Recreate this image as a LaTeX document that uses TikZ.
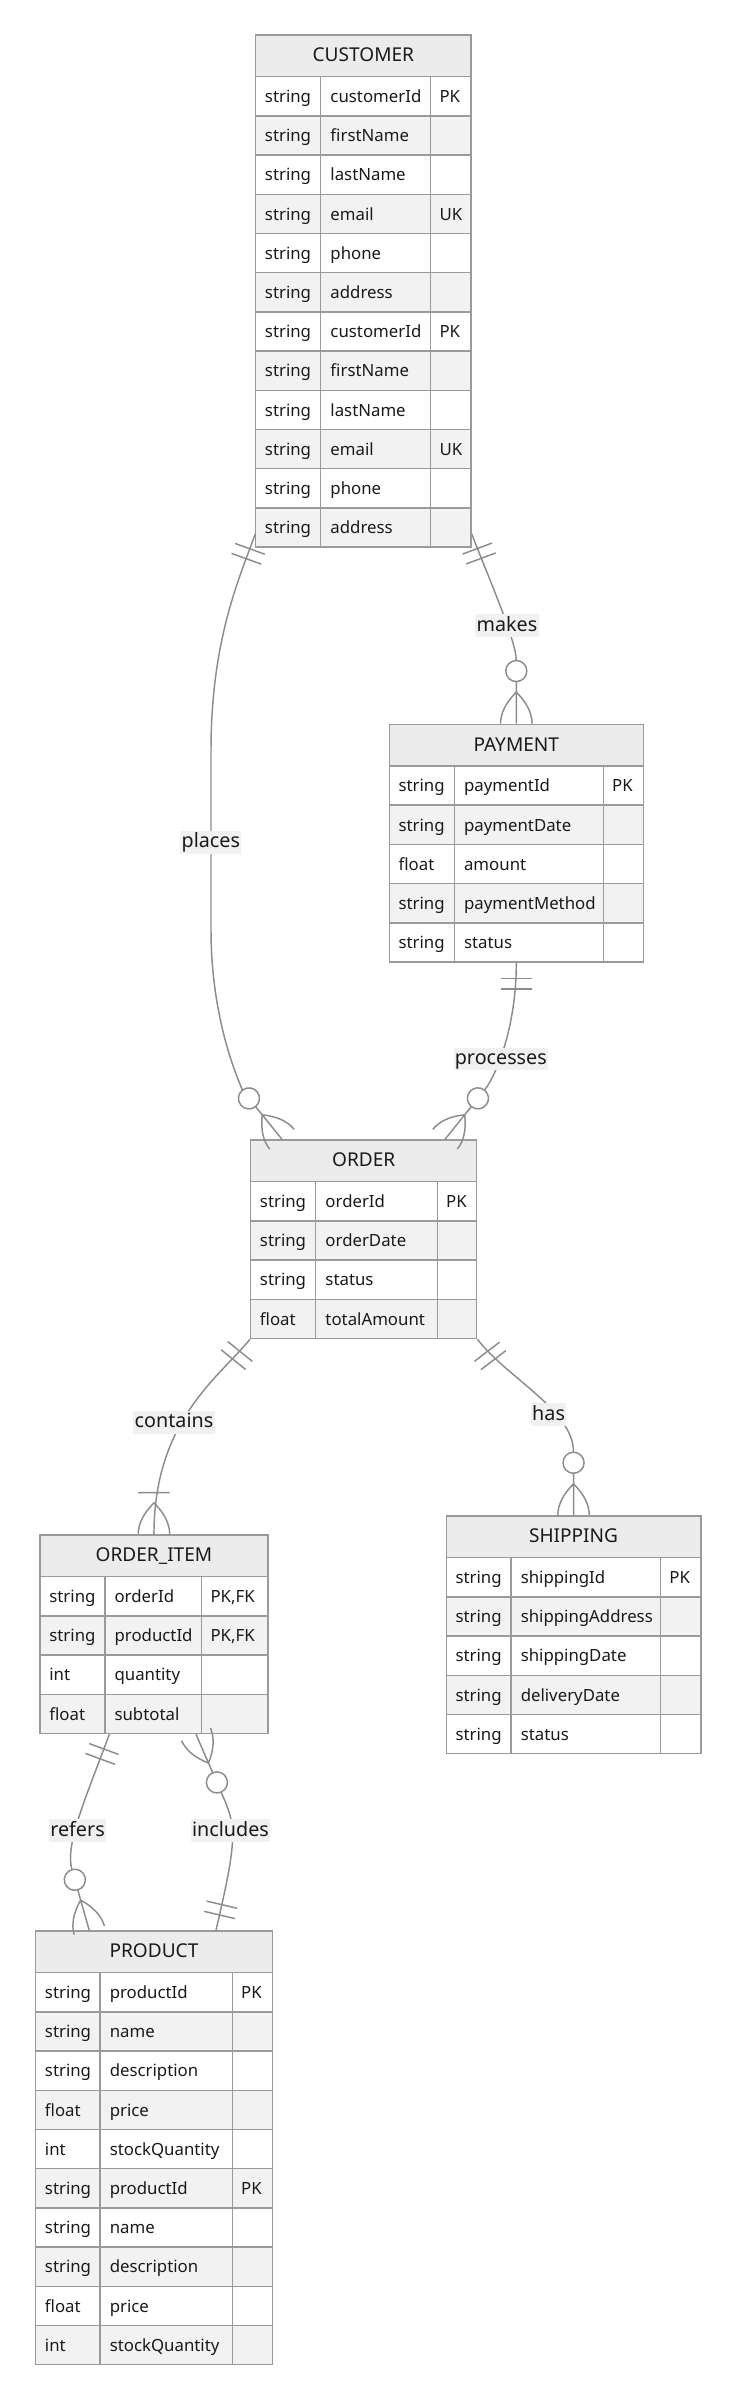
\documentclass[tikz,border=0pt]{standalone}
\usepackage{fontspec}
\setmainfont{Noto Sans}
\usetikzlibrary{calc,fit}

\definecolor{boxline}{HTML}{9A9A9A}
\definecolor{relline}{HTML}{8C8C8C}
\definecolor{headfill}{HTML}{ECECEC}
\definecolor{rowfill}{HTML}{F2F2F2}
\definecolor{lblfill}{HTML}{F1F1F1}
\definecolor{ink}{HTML}{1A1A1A}

\pgfdeclarearrow{
  name = zmany,
  setup code = {
    \pgfarrowssettipend{0pt}
    \pgfarrowssetlineend{-47.3pt}
    \pgfarrowssetbackend{-47.3pt}
    \pgfarrowsupperhullpoint{0pt}{12pt}
    \pgfarrowsupperhullpoint{-47.3pt}{8pt}
  },
  drawing code = {
    \pgfpathcircle{\pgfpoint{-39.4pt}{0pt}}{7.9pt}
    \pgfpathmoveto{\pgfpoint{-31.5pt}{0pt}}
    \pgfpathlineto{\pgfpoint{0pt}{0pt}}
    \pgfpathmoveto{\pgfpoint{0pt}{11.8pt}}
    \pgfpathquadraticcurveto{\pgfpoint{-11.8pt}{11.8pt}}{\pgfpoint{-23.6pt}{0pt}}
    \pgfpathquadraticcurveto{\pgfpoint{-11.8pt}{-11.8pt}}{\pgfpoint{0pt}{-11.8pt}}
    \pgfusepathqstroke
  }
}
\pgfdeclarearrow{
  name = omany,
  setup code = {
    \pgfarrowssettipend{0pt}
    \pgfarrowssetlineend{0pt}
    \pgfarrowssetbackend{-31.2pt}
    \pgfarrowsupperhullpoint{0pt}{12pt}
    \pgfarrowsupperhullpoint{-31.2pt}{12pt}
  },
  drawing code = {
    \pgfpathmoveto{\pgfpoint{-31.2pt}{-11.8pt}}
    \pgfpathlineto{\pgfpoint{-31.2pt}{11.8pt}}
    \pgfpathmoveto{\pgfpoint{0pt}{11.8pt}}
    \pgfpathquadraticcurveto{\pgfpoint{-11.8pt}{11.8pt}}{\pgfpoint{-23.6pt}{0pt}}
    \pgfpathquadraticcurveto{\pgfpoint{-11.8pt}{-11.8pt}}{\pgfpoint{0pt}{-11.8pt}}
    \pgfusepathqstroke
  }
}
\pgfdeclarearrow{
  name = oone,
  setup code = {
    \pgfarrowssettipend{0pt}
    \pgfarrowssetlineend{0pt}
    \pgfarrowssetbackend{-19.7pt}
    \pgfarrowsupperhullpoint{0pt}{12pt}
    \pgfarrowsupperhullpoint{-19.7pt}{12pt}
  },
  drawing code = {
    \pgfpathmoveto{\pgfpoint{-11.8pt}{-11.8pt}}
    \pgfpathlineto{\pgfpoint{-11.8pt}{11.8pt}}
    \pgfpathmoveto{\pgfpoint{-19.7pt}{-11.8pt}}
    \pgfpathlineto{\pgfpoint{-19.7pt}{11.8pt}}
    \pgfusepathqstroke
  }
}

\tikzset{
  cell/.style={draw=boxline, line width=1.1pt},
  attr/.style={anchor=base west, inner sep=0pt, text=ink, font=\fontsize{12.6}{14}\selectfont},
  enttitle/.style={anchor=base, inner sep=0pt, text=ink, font=\fontsize{14.3}{16}\selectfont},
  rel/.style={draw=relline, line width=1.1pt},
  rellabel/.style={fill=lblfill, text=ink, inner xsep=1pt, inner ysep=1pt,
    text height=11.5pt, text depth=3.5pt, font=\fontsize{14.8}{17}\selectfont},
}

% name, title, left, col 1, col 2, right, top, rows, number of rows
\newcommand{\entity}[9]{%
  \fill[headfill] (#3,#7) rectangle (#6,#7+41.7);
  \node[enttitle] at ({(#3+#6)/2},#7+26.7) {#2};
  \foreach \typ/\nam/\key [count=\i] in {#8}{%
    \pgfmathsetmacro\rowtop{#7+41.7+(\i-1)*39.2}
    \ifodd\i\relax\def\rowcol{white}\else\def\rowcol{rowfill}\fi
    \fill[\rowcol] (#3,\rowtop) rectangle (#6,\rowtop+39.2);
    \draw[cell] (#3,\rowtop) -- (#6,\rowtop);
    \node[attr] at (#3+9,\rowtop+25.8) {\typ};
    \node[attr] at (#4+9.5,\rowtop+25.8) {\nam};
    \node[attr] at (#5+8.6,\rowtop+25.8) {\key};
  }
  \draw[cell] (#4,#7+41.7) -- (#4,#7+41.7+#9*39.2) (#5,#7+41.7) -- (#5,#7+41.7+#9*39.2);
  \node[cell, inner sep=0pt, fit={(#3,#7) (#6,#7+41.7+#9*39.2)}] (#1) {};
}

\begin{document}
\begin{tikzpicture}[x=0.75pt,y=-0.75pt]
\useasboundingbox (0,0) rectangle (736,2400);

\entity{cust}{CUSTOMER}{255.7}{320.7}{430.7}{471}{35}{string/customerId/PK, string/firstName/{}, string/lastName/{}, string/email/UK, string/phone/{}, string/address/{}, string/customerId/PK, string/firstName/{}, string/lastName/{}, string/email/UK, string/phone/{}, string/address/{}}{12}
\entity{pay}{PAYMENT}{389.3}{454.3}{603.3}{643.3}{724.3}{string/paymentId/PK, string/paymentDate/{}, float/amount/{}, string/paymentMethod/{}, string/status/{}}{5}
\entity{order}{ORDER}{250.7}{315.7}{437.3}{476.7}{1140}{string/orderId/PK, string/orderDate/{}, string/status/{}, float/totalAmount/{}}{4}
\entity{oitem}{ORDER\_ITEM}{40.1}{104.8}{201.7}{267.8}{1535}{string/orderId/{PK,FK}, string/productId/{PK,FK}, int/quantity/{}, float/subtotal/{}}{4}
\entity{ship}{SHIPPING}{446.3}{511}{660.6}{700.8}{1516}{string/shippingId/PK, string/shippingAddress/{}, string/shippingDate/{}, string/deliveryDate/{}, string/status/{}}{5}
\entity{prod}{PRODUCT}{35.7}{100}{232.3}{272.3}{1931}{string/productId/PK, string/name/{}, string/description/{}, float/price/{}, int/stockQuantity/{}, string/productId/PK, string/name/{}, string/description/{}, float/price/{}, int/stockQuantity/{}}{10}

\draw[rel, oone-zmany] ($(cust.south west)+(0.3,-13.8)$) .. controls (239.5,577.6) and (211,640) .. (211,750)
  -- (211,930) .. controls (211,1030) and (245,1093.5) .. ($(order.north west)+(32,0)$);
\draw[rel, oone-zmany] ($(cust.south east)+(0,-14)$) .. controls (485.4,570.2) and (516.3,640) .. (pay.north);
\draw[rel, oone-zmany] (pay.south) .. controls (516.3,1030) and (494.9,1077.2) .. ($(order.north east)+(-32.4,0)$);
\draw[rel, oone-omany] (order.south west) .. controls (219.5,1377) and (154,1420) .. (oitem.north);
\draw[rel, oone-zmany] (order.south east) .. controls (507,1378) and (573.5,1410) .. (ship.north);
\draw[rel, oone-zmany] ($(oitem.south west)+(70,0)$) .. controls (85.2,1799.5) and (64.8,1844.6) .. ($(prod.north west)+(54.3,0)$);
\draw[rel, zmany-oone] ($(oitem.south west)+(156.6,0)$) .. controls (235.9,1826) and (238.7,1833.5) .. ($(prod.north west)+(181,0)$);

\node[rellabel] (places) at (210.8,842.3) {places};
\node[rellabel] (makes) at (507,625.8) {makes};
\node[rellabel] (processes) at (500.8,1059) {processes};
\node[rellabel] (contains) at (174,1422.5) {contains};
\node[rellabel] (has) at (548.6,1414.7) {has};
\node[rellabel] (refers) at (77.5,1830.7) {refers};
\node[rellabel] (includes) at (230.5,1830.7) {includes};
\end{tikzpicture}
\end{document}
